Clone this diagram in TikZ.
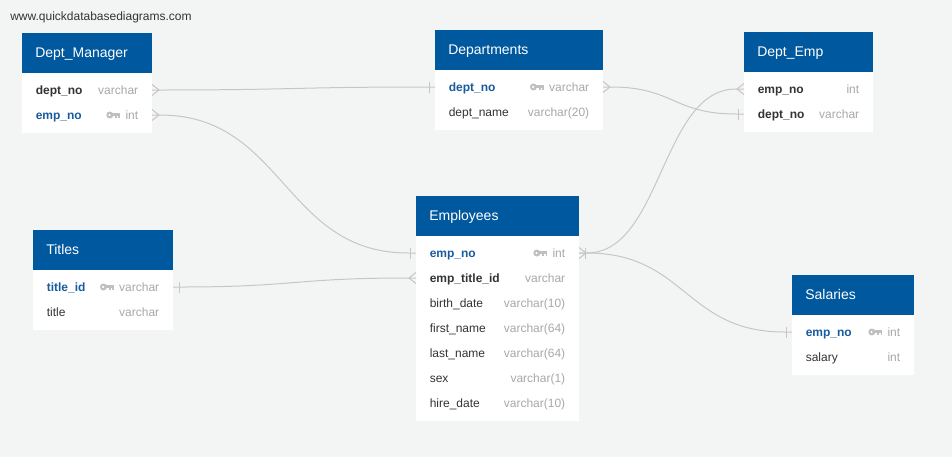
\documentclass[tikz,border=0pt]{standalone}
\usepackage{fontspec}
\setmainfont{Liberation Sans}
\usetikzlibrary{calc}
\definecolor{bgc}{RGB}{243,245,244}
\definecolor{hdrc}{RGB}{0,88,158}
\definecolor{pkc}{RGB}{24,92,158}
\definecolor{namec}{RGB}{51,51,51}
\definecolor{typec}{RGB}{168,168,168}
\definecolor{keyc}{RGB}{192,192,192}
\definecolor{linec}{RGB}{198,198,198}
\tikzset{
  hdrbox/.style={rectangle, fill=hdrc, draw=none, inner sep=0pt, anchor=north west},
  bodybox/.style={rectangle, fill=white, draw=none, inner sep=0pt, anchor=north west},
  hdrtext/.style={font=\fontsize{10.5}{12}\selectfont, text=white, inner sep=0pt, anchor=base west},
  pkname/.style={font=\fontsize{9}{10}\selectfont\bfseries, text=pkc, inner sep=0pt, anchor=base west},
  fkname/.style={font=\fontsize{9}{10}\selectfont\bfseries, text=namec, inner sep=0pt, anchor=base west},
  plname/.style={font=\fontsize{9}{10}\selectfont, text=namec, inner sep=0pt, anchor=base west},
  typet/.style={font=\fontsize{9}{10}\selectfont, text=typec, inner sep=0pt, anchor=base east},
  conn/.style={draw=linec, line width=0.75pt},
  pkicon/.pic={
    \fill[keyc] (3.5,0) circle[radius=3.5];
    \fill[white] (3.2,0) circle[radius=1.2];
    \fill[keyc] (6,-1.6) rectangle (14,1.2);
    \fill[keyc] (9,1.2) rectangle (10.6,3.2);
    \fill[keyc] (12.2,1.2) rectangle (14,3.2);
  },
  fkicon/.pic={},
  plicon/.pic={}
}
\newcommand\dbtable[7]{%
  \node[hdrbox, minimum width=#4*0.75pt, minimum height=30pt] (#1) at (#2,#3) {};
  \node[hdrtext] (#1-title) at (#2+13,#3+24.5) {#5};
  \node[bodybox, minimum width=#4*0.75pt, minimum height=(25*#6+10)*0.75pt] (#1-body) at (#2,#3+40) {};
  \foreach \fn/\ft/\fs [count=\i] in {#7} {
    \coordinate (#1-\i-L) at (#2, #3+57+25*\i-25);
    \coordinate (#1-\i-R) at (#2+#4, #3+57+25*\i-25);
    \node[\fs name] (#1-\i-n) at (#2+13.5, #3+61.3+25*\i-25) {\fn};
    \node[typet] (#1-\i-t) at (#2+#4-13.5, #3+61.3+25*\i-25) {\ft};
    \pic at ($(#1-\i-t.base west)+(-19,-4.3)$) {\fs icon};
  }
}
\newcommand\relline[5]{%
  \coordinate (#1s) at ($(#2)+(#3,0)$);
  \coordinate (#1e) at ($(#4)+(#5,0)$);
  \coordinate (#1m) at ($(#1s)!0.5!(#1e)$);
  \draw[conn] (#2) -- (#1s) .. controls (#1m |- #1s) and (#1m |- #1e) .. (#1e) -- (#4);
}
\newcommand\crowfoot[2]{%
  \draw[conn] ($(#1)+(0,-5.5)$) -- ($(#1)+(#2,0)$) -- ($(#1)+(0,5.5)$);
}
\newcommand\onebar[2]{%
  \draw[conn] ($(#1)+(#2,-5.5)$) -- ($(#1)+(#2,5.5)$);
}
\begin{document}
\begin{tikzpicture}[x=0.75pt, y=-0.75pt]
\useasboundingbox (0,0) rectangle (952,457);
\fill[bgc] (0,0) rectangle (952,457);
\node[font=\fontsize{9}{10}\selectfont, text=namec, inner sep=0pt, anchor=base west] (wm) at (10,20) {www.quickdatabasediagrams.com};

\dbtable{dm}{22}{33}{130}{Dept\_Manager}{2}{dept\_no/varchar/fk, emp\_no/int/pk}
\dbtable{dp}{435}{30}{168}{Departments}{2}{dept\_no/varchar/pk, dept\_name/varchar(20)/pl}
\dbtable{de}{744}{32}{129}{Dept\_Emp}{2}{emp\_no/int/fk, dept\_no/varchar/fk}
\dbtable{ti}{33}{230}{140}{Titles}{2}{title\_id/varchar/pk, title/varchar/pl}
\dbtable{em}{416}{196}{163}{Employees}{7}{emp\_no/int/pk, emp\_title\_id/varchar/fk, birth\_date/varchar(10)/pl, first\_name/varchar(64)/pl, last\_name/varchar(64)/pl, sex/varchar(1)/pl, hire\_date/varchar(10)/pl}
\dbtable{sa}{792}{275}{122}{Salaries}{2}{emp\_no/int/pk, salary/int/pl}

\relline{ca}{dm-1-R}{8}{dp-1-L}{-8}
\crowfoot{dm-1-R}{7}
\onebar{dp-1-L}{-6}

\relline{cb}{dm-2-R}{8}{em-1-L}{-8}
\crowfoot{dm-2-R}{7}
\onebar{em-1-L}{-6}

\relline{cc}{dp-1-R}{8}{de-2-L}{-8}
\crowfoot{dp-1-R}{7}
\onebar{de-2-L}{-6}

\relline{cd}{em-1-R}{8}{de-1-L}{-8}
\crowfoot{de-1-L}{-7}
\crowfoot{em-1-R}{7}
\onebar{em-1-R}{6}

\relline{ce}{em-1-R}{8}{sa-1-L}{-8}
\onebar{sa-1-L}{-6}

\relline{cf}{ti-1-R}{8}{em-2-L}{-8}
\onebar{ti-1-R}{6}
\crowfoot{em-2-L}{-7}
\end{tikzpicture}
\end{document}
